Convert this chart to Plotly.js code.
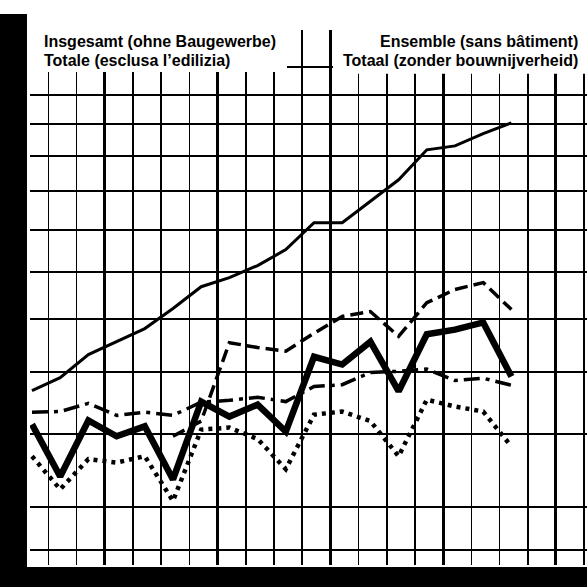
<!DOCTYPE html>
<html>
<head>
<meta charset="utf-8">
<script src="https://cdn.plot.ly/plotly-3.0.1.min.js"></script>
<style>
html,body{margin:0;padding:0;background:#fff;}
#chart{width:587px;height:587px;}
</style>
</head>
<body>
<div id="chart"></div>
<script>
// Periods (no labels shown on the original)
const periods = [0,1,2,3,4,5,6,7,8,9,10,11,12,13,14,15,16,17];

// Series values (log scale)
const seriesThin    = [66.9, 69.1, 73.2, 75.6, 78.1, 82.1, 86.7, 88.7, 91.4, 95.1, 101.7, 101.7, 107.2, 113.2, 122.0, 123.2, 127.0, 130.5];
const seriesThick   = [61.5, 54.0, 62.1, 59.7, 61.2, 53.6, 65.1, 62.7, 64.6, 60.4, 72.8, 71.4, 75.6, 66.8, 77.0, 77.9, 79.3, 69.3];
const seriesDashed  = [null, null, null, null, null, 59.7, 62.0, 75.4, 74.5, 73.8, 77.2, 80.5, 81.5, 76.6, 83.3, 86.1, 87.6, 81.9];
const seriesDashDot = [63.4, 63.5, 64.8, 62.9, 63.4, 62.9, 65.0, 65.3, 65.8, 65.1, 67.6, 67.9, 70.0, 70.2, 70.6, 68.6, 69.0, 67.8];
const seriesDotted  = [56.8, 52.3, 56.4, 55.9, 56.8, 50.8, 60.7, 61.0, 59.3, 55.0, 63.0, 63.5, 62.0, 56.8, 65.4, 64.3, 63.5, 58.2];

// Horizontal grid values
const gridValues = [45, 50, 60, 70, 80, 90, 100, 110, 120, 130, 140, 150];

const titleLeft  = ['Insgesamt (ohne Baugewerbe)', 'Totale (esclusa l’edilizia)'];
const titleRight = ['Ensemble (sans bâtiment)', 'Totaal (zonder bouwnijverheid)'];

const traces = [
  {x: periods, y: seriesThin, mode: 'lines', line: {color: '#000', width: 3}, name: 'A'},
  {x: periods, y: seriesDashDot, mode: 'lines', line: {color: '#000', width: 3.5, dash: '16px,6px,4px,6px'}, name: 'B'},
  {x: periods, y: seriesDashed, mode: 'lines', line: {color: '#000', width: 3.5, dash: '13px,6px'}, name: 'C', connectgaps: false},
  {x: periods, y: seriesDotted, mode: 'lines', line: {color: '#000', width: 4.5, dash: '4px,5px'}, name: 'D'},
  {x: periods, y: seriesThick, mode: 'lines', line: {color: '#000', width: 6.5}, name: 'E'}
];

const fnt = {family: '"Liberation Sans", Arial, sans-serif', size: 16, color: '#000'};

const layout = {
  width: 587, height: 587,
  margin: {l: 30, r: 0, t: 30, b: 22},
  paper_bgcolor: '#fff', plot_bgcolor: '#fff',
  showlegend: false,
  xaxis: {
    range: [-0.07, 19.68],
    tickmode: 'linear', tick0: 2.58, dtick: 4,
    showgrid: true, gridcolor: '#000', gridwidth: 3,
    minor: {tickmode: 'linear', tick0: 0.58, dtick: 1, showgrid: true, gridcolor: '#000', gridwidth: 1.5},
    showticklabels: false, ticks: '', zeroline: false, showline: false
  },
  yaxis: {
    type: 'log',
    range: [Math.log10(43.3), Math.log10(164.5)],
    tickmode: 'array', tickvals: gridValues,
    showgrid: true, gridcolor: '#000', gridwidth: 2,
    showticklabels: false, ticks: '', zeroline: false, showline: false
  },
  shapes: [
    // white boxes behind the titles
    {type: 'rect', xref: 'paper', yref: 'paper', x0: -0.002, x1: 0.4614, y0: 0.9215, y1: 1.01, fillcolor: '#fff', line: {width: 0}, layer: 'above'},
    {type: 'rect', xref: 'paper', yref: 'paper', x0: 0.544, x1: 1.01, y0: 0.918, y1: 1.01, fillcolor: '#fff', line: {width: 0}, layer: 'above'},
    // dark scan borders
    {type: 'rect', xref: 'paper', yref: 'paper', x0: -0.06, x1: -0.0054, y0: -0.05, y1: 1.03, fillcolor: '#000', line: {width: 0}, layer: 'above'},
    {type: 'rect', xref: 'paper', yref: 'paper', x0: -0.06, x1: 1.01, y0: -0.05, y1: -0.0037, fillcolor: '#000', line: {width: 0}, layer: 'above'}
  ],
  annotations: [
    {xref: 'paper', yref: 'paper', x: 0.0215, y: 0.9776, xanchor: 'left', yanchor: 'middle', text: '<b>' + titleLeft[0] + '</b>', showarrow: false, font: fnt},
    {xref: 'paper', yref: 'paper', x: 0.0215, y: 0.9439, xanchor: 'left', yanchor: 'middle', text: '<b>' + titleLeft[1] + '</b>', showarrow: false, font: fnt},
    {xref: 'paper', yref: 'paper', x: 0.9874, y: 0.9776, xanchor: 'right', yanchor: 'middle', text: '<b>' + titleRight[0] + '</b>', showarrow: false, font: fnt},
    {xref: 'paper', yref: 'paper', x: 0.9874, y: 0.9439, xanchor: 'right', yanchor: 'middle', text: '<b>' + titleRight[1] + '</b>', showarrow: false, font: fnt}
  ]
};

Plotly.newPlot('chart', traces, layout, {staticPlot: true, displayModeBar: false});
</script>
</body>
</html>
